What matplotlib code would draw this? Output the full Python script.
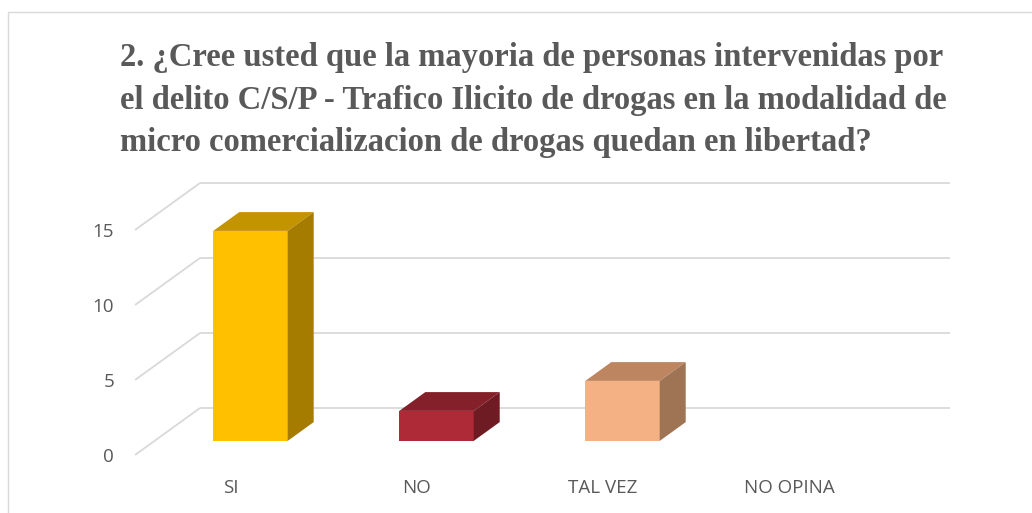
import matplotlib
matplotlib.use("Agg")
import matplotlib.pyplot as plt
from matplotlib.patches import Polygon, Rectangle

categories = ["SI", "NO", "TAL VEZ", "NO OPINA"]
values = [14, 2, 4, 0]
yticks = [0, 5, 10, 15]
title = ("2. ¿Cree usted que la mayoria de personas intervenidas por\n"
         "el delito C/S/P - Trafico Ilicito de drogas en la modalidad de\n"
         "micro comercializacion de drogas quedan en libertad?")

front_col = ["#FFC000", "#AE2A36", "#F4B183", "#7F7F7F"]
top_col = ["#C39300", "#84202A", "#BD8661", "#606060"]
side_col = ["#A57C00", "#6E1B23", "#9E7455", "#505050"]

W, H = 1032, 513
fig = plt.figure(figsize=(W / 100, H / 100), dpi=100)

# chart border
fig.patches.append(Rectangle((8 / W, -0.2), 1.2, (H - 12) / H + 0.2,
                             transform=fig.transFigure, fill=False,
                             edgecolor="#d9d9d9", lw=1.0))

fig.text(120 / W, 1 - 42 / H, title, ha="left", va="top",
         family="Liberation Serif", fontweight="bold", fontsize=23.5,
         color="#595959", linespacing=1.48)

ax = fig.add_axes([135 / W, 58 / H, 750 / W, 225 / H])
x0, x1 = -0.516, 3.516
ax.set_xlim(x0, x1)
ax.set_ylim(0, 15)
for s in ax.spines.values():
    s.set_visible(False)

# depth of the 3D box in data units
DX = 65 / 186
DY = 47 / 15
grid_c = "#d9d9d9"
for v in yticks:
    ax.plot([x0 + DX, x1 + DX], [v + DY, v + DY], color=grid_c, lw=1.3,
            clip_on=False, zorder=1, solid_capstyle="butt")
    ax.plot([x0, x0 + DX], [v, v + DY], color=grid_c, lw=1.3,
            clip_on=False, zorder=1, solid_capstyle="butt")

bw = 0.4
f1, f2 = 0.3, 0.7
for i, v in enumerate(values):
    if v <= 0:
        continue
    xl = i - bw / 2 + f1 * DX
    xr = i + bw / 2 + f1 * DX
    yb = f1 * DY
    yt = yb + v
    ddx = (f2 - f1) * DX
    ddy = (f2 - f1) * DY
    front = Polygon([(xl, yb), (xr, yb), (xr, yt), (xl, yt)], closed=True,
                    facecolor=front_col[i], edgecolor="none", clip_on=False, zorder=3)
    top = Polygon([(xl, yt), (xr, yt), (xr + ddx, yt + ddy), (xl + ddx, yt + ddy)],
                  closed=True, facecolor=top_col[i], edgecolor="none",
                  clip_on=False, zorder=3)
    side = Polygon([(xr, yb), (xr + ddx, yb + ddy), (xr + ddx, yt + ddy), (xr, yt)],
                   closed=True, facecolor=side_col[i], edgecolor="none",
                   clip_on=False, zorder=3)
    for p in (front, top, side):
        ax.add_patch(p)

ax.set_yticks(yticks)
ax.set_yticklabels([str(t) for t in yticks], family="Open Sans", fontsize=13.5,
                   color="#595959")
ax.set_xticks(range(len(categories)))
ax.set_xticklabels(categories, family="Open Sans", fontsize=13.5, color="#595959")
ax.tick_params(axis="y", length=0, pad=15)
ax.tick_params(axis="x", length=0, pad=17)
ax.patch.set_alpha(0)

fig.savefig("out.png", dpi=100)
